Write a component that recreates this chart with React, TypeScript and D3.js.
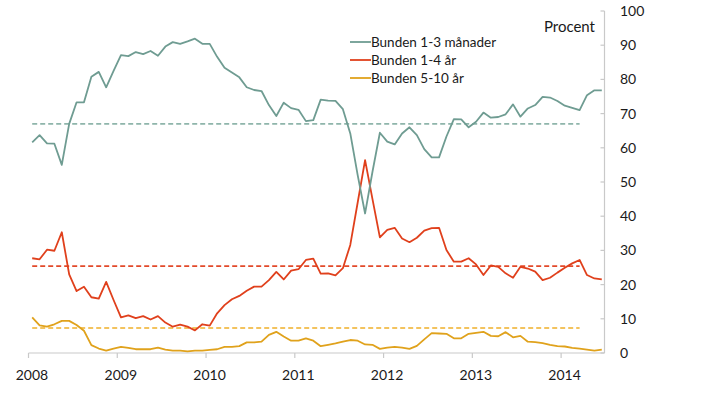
import { useEffect, useRef } from 'react';
import * as d3 from 'd3';

// monthly shares, Jan 2008 - Jun 2014 (percent)
const shortRate = [
  61.6, 63.7, 61.3, 61.2, 55.0, 67.0, 73.3, 73.3, 80.8, 82.2, 77.7, 82.5,
  87.1, 86.8, 88.0, 87.4, 88.3, 86.9, 89.6, 90.9, 90.4, 91.1, 91.9, 90.4,
  90.4, 86.6, 83.4, 82.0, 80.6, 77.7, 76.9, 76.6, 72.5, 69.3, 73.2, 71.6,
  71.1, 67.8, 68.1, 74.1, 73.8, 73.7, 71.3, 64.2, 52.0, 40.8, 53.0, 64.4,
  61.8, 61.0, 64.2, 66.0, 63.7, 59.6, 57.2, 57.2, 63.3, 68.4, 68.3, 66.0,
  67.6, 70.3, 68.8, 69.0, 69.8, 72.7, 69.1, 71.5, 72.5, 74.9, 74.7, 73.7,
  72.3, 71.7, 71.0, 75.4, 76.8, 76.8
];

const midRate = [
  27.7, 27.4, 30.2, 29.9, 35.3, 23.0, 18.1, 19.4, 16.3, 15.9, 20.8, 15.5,
  10.4, 11.0, 10.2, 10.8, 9.8, 10.8, 8.9, 7.7, 8.3, 7.7, 6.6, 8.4,
  8.0, 11.6, 14.0, 15.7, 16.7, 18.2, 19.4, 19.4, 21.3, 23.7, 21.5, 24.1,
  24.5, 27.2, 27.6, 23.2, 23.3, 22.7, 24.8, 31.6, 44.0, 56.4, 45.0, 33.8,
  36.0, 36.6, 33.5, 32.4, 33.7, 35.8, 36.5, 36.6, 30.1, 26.7, 26.7, 27.7,
  25.9, 22.8, 25.6, 25.2, 23.3, 22.0, 25.2, 24.7, 23.8, 21.3, 22.0, 23.5,
  24.9, 26.2, 27.2, 22.8, 21.8, 21.5
];

const longRate = [
  10.4, 8.1, 7.7, 8.4, 9.4, 9.4, 8.2, 6.5, 2.3, 1.3, 0.7, 1.3,
  1.8, 1.5, 1.1, 1.1, 1.1, 1.6, 1.0, 0.7, 0.7, 0.5, 0.7, 0.7,
  0.9, 1.1, 1.8, 1.8, 2.0, 3.1, 3.1, 3.3, 5.3, 6.2, 4.8, 3.6,
  3.6, 4.3, 3.6, 2.0, 2.4, 2.8, 3.3, 3.8, 3.6, 2.5, 2.4, 1.2,
  1.6, 1.8, 1.6, 1.2, 2.1, 4.0, 5.8, 5.7, 5.6, 4.3, 4.3, 5.6,
  5.9, 6.2, 5.0, 4.9, 6.1, 4.6, 5.0, 3.3, 3.2, 2.9, 2.4, 2.0,
  1.9, 1.5, 1.3, 1.0, 0.7, 1.0
];

const seriesNames = ['Bunden 1-3 månader', 'Bunden 1-4 år', 'Bunden 5-10 år'];
const averages = [67.0, 25.4, 7.3];
const averageSpan = [0, 74]; // month index range of the dashed average lines
const yearLabels = ['2008', '2009', '2010', '2011', '2012', '2013', '2014'];
const yTicks = [0, 10, 20, 30, 40, 50, 60, 70, 80, 90, 100];

const colors = ['#6f9c92', '#e0401c', '#e0a21c'];
const dashColors = ['#8fb5ab', '#e2492a', '#f0b02a'];

const App = () => {
  const svgRef = useRef(null);

  useEffect(() => {
    const svg = d3.select(svgRef.current);
    svg.selectAll('*').remove();

    const font = 'Lato, "Open Sans", sans-serif';
    const nMonths = shortRate.length;

    const x = d3.scaleLinear().domain([0, nMonths]).range([28.5, 605.5]);
    const y = d3.scaleLinear().domain([0, 100]).range([353, 11]);

    // axes
    const axisColor = '#c9c9c9';
    svg.append('line')
      .attr('x1', x(0)).attr('x2', x(nMonths) - 1)
      .attr('y1', y(0)).attr('y2', y(0))
      .attr('stroke', axisColor).attr('stroke-width', 1.2);
    svg.append('line')
      .attr('x1', x(nMonths) - 1).attr('x2', x(nMonths) - 1)
      .attr('y1', y(0)).attr('y2', y(100))
      .attr('stroke', axisColor).attr('stroke-width', 1.2);

    yearLabels.forEach((lab, i) => {
      const xp = x(i * 12);
      svg.append('line')
        .attr('x1', xp).attr('x2', xp)
        .attr('y1', y(0)).attr('y2', y(0) + 5)
        .attr('stroke', axisColor).attr('stroke-width', 1.2);
      svg.append('text')
        .attr('x', xp + 3.5)
        .attr('y', 380)
        .attr('text-anchor', 'middle')
        .style('font-family', font)
        .style('font-size', '14px')
        .attr('fill', '#1a1a1a')
        .text(lab);
    });

    yTicks.forEach(t => {
      svg.append('line')
        .attr('x1', x(nMonths) - 5).attr('x2', x(nMonths) - 1)
        .attr('y1', y(t)).attr('y2', y(t))
        .attr('stroke', axisColor).attr('stroke-width', 1.2);
      svg.append('text')
        .attr('x', 620)
        .attr('y', y(t))
        .attr('dy', '0.35em')
        .style('font-family', font)
        .style('font-size', '14px')
        .attr('fill', '#1a1a1a')
        .text(t);
    });

    svg.append('text')
      .attr('x', 595)
      .attr('y', 32)
      .attr('text-anchor', 'end')
      .style('font-family', font)
      .style('font-size', '15px')
      .attr('fill', '#1a1a1a')
      .text('Procent');

    // dashed averages
    averages.forEach((v, k) => {
      svg.append('line')
        .attr('x1', x(averageSpan[0] + 0.5)).attr('x2', x(averageSpan[1] + 0.5))
        .attr('y1', y(v)).attr('y2', y(v))
        .attr('stroke', dashColors[k])
        .attr('stroke-width', 1.6)
        .attr('stroke-dasharray', '5,3');
    });

    // series
    const line = d3.line<number>()
      .x((d, i) => x(i + 0.5))
      .y(d => y(d));

    [longRate, midRate, shortRate].forEach((s, j) => {
      const k = 2 - j;
      svg.append('path')
        .datum(s)
        .attr('fill', 'none')
        .attr('stroke', colors[k])
        .attr('stroke-width', 1.8)
        .attr('stroke-linejoin', 'round')
        .attr('d', line);
    });

    // legend
    const legend = svg.append('g').attr('transform', 'translate(350, 42)');
    seriesNames.forEach((name, i) => {
      legend.append('line')
        .attr('x1', 0).attr('x2', 21)
        .attr('y1', i * 18).attr('y2', i * 18)
        .attr('stroke', colors[i])
        .attr('stroke-width', 1.8);
      legend.append('text')
        .attr('x', 21)
        .attr('y', i * 18)
        .attr('dy', '0.35em')
        .style('font-family', font)
        .style('font-size', '13.5px')
        .attr('fill', '#1a1a1a')
        .text(name);
    });
  }, []);

  return (
    <svg
      ref={svgRef}
      width={705}
      height={396}
      style={{ position: 'absolute', left: 0, top: 0, background: '#fff' }}
    />
  );
};

export default App;
